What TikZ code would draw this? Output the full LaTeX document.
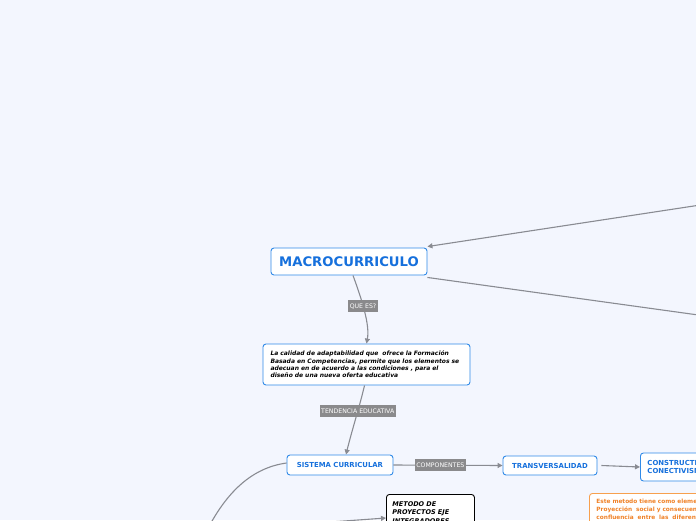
\documentclass[tikz,border=0pt]{standalone}
\usepackage{fontspec}
\setmainfont{DejaVu Sans}
\usepackage{tikz}
\usetikzlibrary{arrows.meta,positioning,calc}
\definecolor{bgblue}{RGB}{243,246,254}
\definecolor{topicblue}{RGB}{48,138,232}
\definecolor{textblue}{RGB}{22,112,220}
\definecolor{linkgray}{RGB}{137,139,146}
\definecolor{labelgray}{RGB}{138,138,140}
\definecolor{noteorange}{RGB}{247,160,78}
\definecolor{orangetext}{RGB}{240,130,40}

\begin{document}
\begin{tikzpicture}[x=1pt,y=-1pt,
  topic/.style={draw=topicblue,line width=0.9pt,fill=white,rounded corners=3pt,
    text=textblue,font=\fontsize{6.9}{8.4}\selectfont\bfseries,inner sep=2pt},
  note/.style={draw=topicblue,line width=0.9pt,fill=white,rounded corners=3pt,
    font=\fontsize{6}{7.3}\selectfont\bfseries\itshape,align=left,inner sep=3pt},
  linklabel/.style={fill=labelgray,text=white,font=\fontsize{6.2}{7}\selectfont,
    inner sep=1.5pt,minimum height=12pt},
  link/.style={draw=linkgray,line width=1.1pt},
  arrowlink/.style={link,-{Triangle[length=5pt,width=5pt]}}]
% page
\useasboundingbox (0,0) rectangle (696,520);
\fill[bgblue] (0,0) rectangle (696,520);
\clip (0,0) rectangle (696,520);

% main topic
\node[topic,minimum width=156pt,minimum height=27pt,
  font=\fontsize{13.2}{15}\selectfont\bfseries] (macro) at (349,261.5) {MACROCURRICULO};

\node[note,minimum width=207pt,minimum height=41pt,text width=192pt] (defin) at (366.5,364.5)
  {La calidad de adaptabilidad que\ \ ofrece la Formación\\Basada en Competencias, permite que los elementos se\\adecuan en de acuerdo a las condiciones , para el\\diseño de una nueva oferta educativa};

\node[topic,minimum width=106pt,minimum height=20pt] (sistema) at (340,465) {SISTEMA CURRICULAR};
\node[topic,minimum width=94pt,minimum height=19pt] (transv) at (550,465.5) {TRANSVERSALIDAD};
\node[topic,minimum height=28pt,align=left,anchor=west,inner xsep=7pt] (constr) at (640,467)
  {CONSTRUCTIVISMO\\CONECTIVISMO};
\node[note,draw=black,minimum width=87pt,text width=76pt,anchor=north west,
  font=\fontsize{6.5}{8.6}\selectfont\bfseries\itshape,inner xsep=6pt,inner ysep=7pt] (metodo) at (386,494)
  {METODO DE\\PROYECTOS EJE\\INTEGRADORES};
\node[note,draw=noteorange,text=orangetext,font=\fontsize{5.8}{8}\selectfont\bfseries,
  anchor=north west,text width=150pt,inner xsep=7pt,inner ysep=6pt] (orange) at (589,493)
  {Este metodo tiene como elementos la\\Proyección\ \ social y consecuencia\\confluencia\ \ entre\ \ las\ \ diferentes};

% off-page ends
\coordinate (farup) at (720,202);
\coordinate (fardown) at (720,318);
\coordinate (farleft) at (200,545);
\coordinate (metsrc) at (330,522);

% connectors
\draw[arrowlink] (farup) -- ([yshift=1pt]macro.north east);
\draw[link] ([yshift=-2pt]macro.south east) -- (fardown);
\draw[arrowlink] (macro.south) ++(4,0) .. controls (362,300) and (370,325) .. node[linklabel,pos=0.42] (quees) {QUE ES?} (defin.north);
\draw[arrowlink] ([xshift=-2pt]defin.south) .. controls (360,405) and (352,430) .. node[linklabel,pos=0.4] (tendencia) {TENDENCIA EDUCATIVA} ([xshift=6pt]sistema.north);
\draw[arrowlink] (sistema.east) -- node[linklabel,pos=0.43] (compon) {COMPONENTES} (transv.west);
\draw[arrowlink] ([xshift=4pt]transv.east) -- (constr.west);
\draw[link] ([yshift=2pt]sistema.west) .. controls (250,468) and (222,495) .. (farleft);
\draw[arrowlink] (metsrc) -- ([yshift=-24pt]metodo.north west);
\end{tikzpicture}
\end{document}
